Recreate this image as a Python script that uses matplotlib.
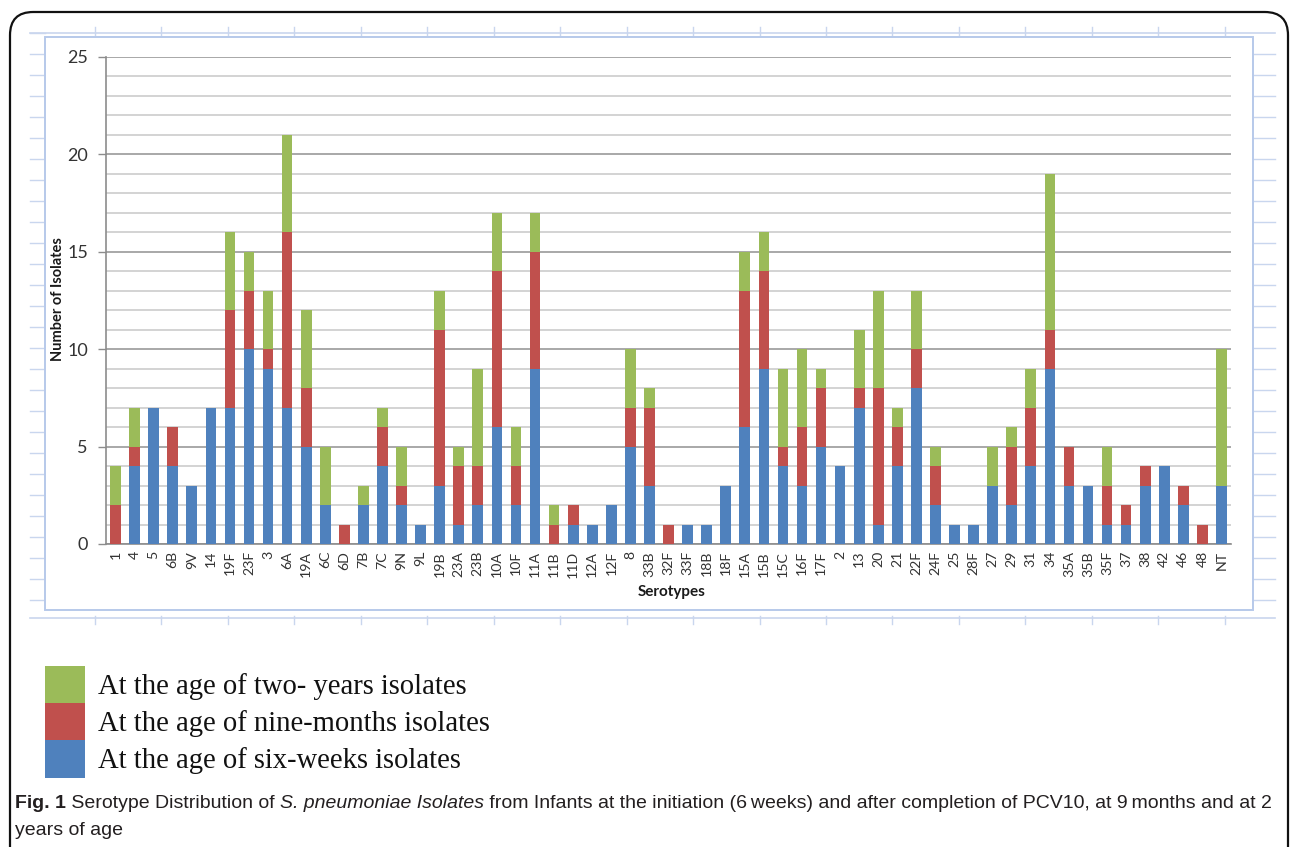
import matplotlib
matplotlib.use("Agg")
import matplotlib.pyplot as plt
from matplotlib.patches import Rectangle, FancyBboxPatch
from matplotlib.lines import Line2D
import numpy as np

# Serotypes and isolate counts at each age
serotypes = ["1", "4", "5", "6B", "9V", "14", "19F", "23F", "3", "6A", "19A", "6C", "6D",
             "7B", "7C", "9N", "9L", "19B", "23A", "23B", "10A", "10F", "11A", "11B", "11D",
             "12A", "12F", "8", "33B", "32F", "33F", "18B", "18F", "15A", "15B", "15C", "16F",
             "17F", "2", "13", "20", "21", "22F", "24F", "25", "28F", "27", "29", "31", "34",
             "35A", "35B", "35F", "37", "38", "42", "46", "48", "NT"]
six_weeks = [0, 4, 7, 4, 3, 7, 7, 10, 9, 7, 5, 2, 0,
             2, 4, 2, 1, 3, 1, 2, 6, 2, 9, 0, 1,
             1, 2, 5, 3, 0, 1, 1, 3, 6, 9, 4, 3,
             5, 4, 7, 1, 4, 8, 2, 1, 1, 3, 2, 4, 9,
             3, 3, 1, 1, 3, 4, 2, 0, 3]
nine_months = [2, 1, 0, 2, 0, 0, 5, 3, 1, 9, 3, 0, 1,
               0, 2, 1, 0, 8, 3, 2, 8, 2, 6, 1, 1,
               0, 0, 2, 4, 1, 0, 0, 0, 7, 5, 1, 3,
               3, 0, 1, 7, 2, 2, 2, 0, 0, 0, 3, 3, 2,
               2, 0, 2, 1, 1, 0, 1, 1, 0]
two_years = [2, 2, 0, 0, 0, 0, 4, 2, 3, 5, 4, 3, 0,
             1, 1, 2, 0, 2, 1, 5, 3, 2, 2, 1, 0,
             0, 0, 3, 1, 0, 0, 0, 0, 2, 2, 4, 4,
             1, 0, 3, 5, 1, 3, 1, 0, 0, 2, 1, 2, 8,
             0, 0, 2, 0, 0, 0, 0, 0, 7]
y_ticks = [0, 5, 10, 15, 20, 25]

legend_labels = ["At the age of two- years isolates",
                 "At the age of nine-months isolates",
                 "At the age of six-weeks isolates"]
caption_parts = [("Fig. 1", "normal", "bold"),
                 (" Serotype Distribution of ", "normal", "normal"),
                 ("S. pneumoniae Isolates", "italic", "normal"),
                 (" from Infants at the initiation (6\u2009weeks) and after completion of PCV10, at 9\u2009months and at 2",
                  "normal", "normal")]
caption_line2 = "years of age"

BLUE = "#4f81bd"
RED = "#c0504d"
GREEN = "#9bbb59"
PAGE = "#c9d6ee"

W, H = 1290, 847
fig = plt.figure(figsize=(W / 100, H / 100), dpi=100)


def fx(x):
    return x / W


def fy(y):
    return 1 - y / H


# Rounded outer frame of the figure panel
frame = FancyBboxPatch((fx(10), fy(900)), fx(1278), (900 - 12) / H,
                       boxstyle="round,pad=0,rounding_size=0.018",
                       transform=fig.transFigure, fill=False, ec="#111111", lw=1.6,
                       mutation_aspect=W / H, clip_on=False, zorder=-2)
fig.patches.append(frame)

# Worksheet ruler lines around the chart object
ruler = dict(transform=fig.transFigure, color=PAGE, zorder=-2)
fig.lines.append(Line2D([fx(30), fx(1275)], [fy(33), fy(33)], lw=1.2, **ruler))
fig.lines.append(Line2D([fx(30), fx(1275)], [fy(618), fy(618)], lw=1.2, **ruler))
for k in range(19):
    x = 95 + 66.45 * k
    fig.lines.append(Line2D([fx(x), fx(x)], [fy(27), fy(35)], lw=1.0, **ruler))
    fig.lines.append(Line2D([fx(x), fx(x)], [fy(616), fy(624)], lw=1.0, **ruler))
for k in range(28):
    y = 33 + 21.0 * k
    if y > 615:
        break
    fig.lines.append(Line2D([fx(30), fx(45)], [fy(y), fy(y)], lw=1.0, **ruler))
    if y > 45:
        fig.lines.append(Line2D([fx(1253), fx(1275)], [fy(y), fy(y)], lw=1.0, **ruler))

# Chart object border
fig.patches.append(Rectangle((fx(45), fy(610)), fx(1253 - 45), (610 - 37) / H,
                             transform=fig.transFigure, fill=True, fc="white",
                             ec="#b7c9ea", lw=1.4, zorder=-1))

# Plot area
ax = fig.add_axes([fx(106), fy(544), fx(1231 - 106), (544 - 57) / H])
ax.set_zorder(3)
ax.set_facecolor("white")
x = np.arange(len(serotypes))
six = np.array(six_weeks)
nine = np.array(nine_months)
two = np.array(two_years)
bw = 0.56
ax.bar(x, six, width=bw, color=BLUE, zorder=3)
ax.bar(x, nine, width=bw, bottom=six, color=RED, zorder=3)
ax.bar(x, two, width=bw, bottom=six + nine, color=GREEN, zorder=3)

ax.set_xlim(-0.5, len(serotypes) - 0.5)
ax.set_ylim(0, 25)
ax.set_yticks(y_ticks)
ax.set_yticks(np.arange(0, 26, 1), minor=True)
ax.yaxis.grid(True, which="minor", color="#c8c8c8", lw=1.1, zorder=0)
ax.yaxis.grid(True, which="major", color="#9a9a9a", lw=1.2, zorder=0)
ax.tick_params(axis="y", which="major", length=6, width=1.0, color="#8c8c8c",
               labelsize=13, labelcolor="#333333", pad=7)
ax.tick_params(axis="y", which="minor", length=0)
ax.set_xticks(x)
ax.set_xticklabels(serotypes, rotation=90, fontsize=10.2, color="#333333",
                   family=["Lato", "DejaVu Sans"])
ax.tick_params(axis="x", length=0, pad=5)
for lab in ax.get_yticklabels():
    lab.set_family(["Lato", "DejaVu Sans"])
for s in ["top", "right"]:
    ax.spines[s].set_visible(False)
ax.spines["left"].set_color("#8c8c8c")
ax.spines["bottom"].set_color("#8c8c8c")
ax.spines["left"].set_linewidth(1.2)
ax.spines["bottom"].set_linewidth(1.2)
ax.set_axisbelow(True)

fig.text(fx(58), fy(299), "Number of Isolates", rotation=90, ha="center", va="center",
         fontsize=10.5, fontweight="bold", family=["Lato", "DejaVu Sans"], color="#1a1a1a")
fig.text(fx(672), fy(592), "Serotypes", ha="center", va="center",
         fontsize=11, fontweight="bold", family=["Lato", "DejaVu Sans"], color="#1a1a1a")

# Legend block below the chart
leg_colors = [GREEN, RED, BLUE]
tops = [666, 703, 740]
for lab, col, t in zip(legend_labels, leg_colors, tops):
    fig.patches.append(Rectangle((fx(45), fy(t + 38)), fx(40), 38 / H,
                                 transform=fig.transFigure, fc=col, ec="none"))
    fig.text(fx(98), fy(t + 21), lab, ha="left", va="center", fontsize=20.6,
             family=["Liberation Serif", "DejaVu Serif"], color="#111111")

# Caption with mixed weights and styles
renderer = fig.canvas.get_renderer()
cap_family = ["Liberation Sans Narrow", "Liberation Sans", "DejaVu Sans"]
cap_size = 14.0
xpos = 15
for s, style, weight in caption_parts:
    t = fig.text(fx(xpos), fy(803), s, ha="left", va="center", fontsize=cap_size,
                 style=style, fontweight=weight, family=cap_family, color="#231f20")
    xpos += t.get_window_extent(renderer=renderer).width
fig.text(fx(15), fy(830), caption_line2, ha="left", va="center", fontsize=cap_size,
         family=cap_family, color="#231f20")

fig.savefig("out.png", dpi=100, facecolor="white")
